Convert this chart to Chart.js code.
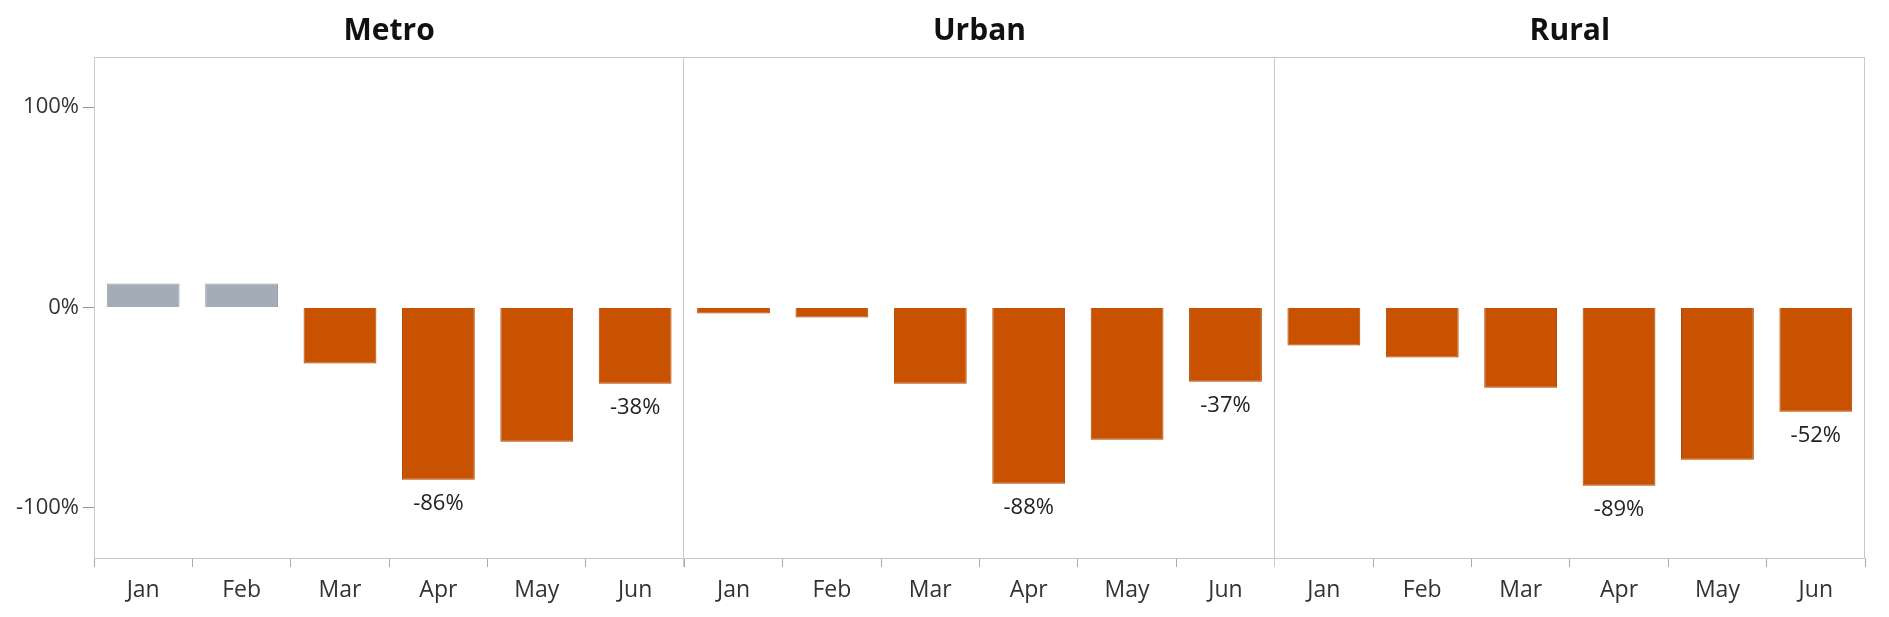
<!DOCTYPE html>
<html>
<head>
<meta charset="utf-8">
<script src="https://cdn.jsdelivr.net/npm/chart.js@4/dist/chart.umd.min.js"></script>
<style>
  html, body { margin: 0; padding: 0; background: #fff; }
  #wrap { width: 1889px; height: 617px; }
</style>
</head>
<body>
<div id="wrap"><canvas id="myChart" width="1889" height="617"></canvas></div>
<script>
const months = ['Jan', 'Feb', 'Mar', 'Apr', 'May', 'Jun']
const regions = ['Metro', 'Urban', 'Rural']
const metro = [12, 12, -28, -86, -67, -38]
const urban = [-3, -5, -38, -88, -66, -37]
const rural = [-19, -25, -40, -89, -76, -52]
const yTicks = [-100, 0, 100]

const values = [...metro, ...urban, ...rural]
const labels = regions.flatMap(() => months)

// label the lowest month and the last month of each panel
const labelled = []
;[metro, urban, rural].forEach((arr, p) => {
    const minIdx = arr.indexOf(Math.min(...arr))
    labelled.push(p * 6 + minIdx, p * 6 + arr.length - 1)
})

const FONT = '"Open Sans", "Segoe UI", sans-serif'
const frameColor = '#c9c9c9'

const panelDecor = {
    id: 'panelDecor',
    afterDraw(chart) {
        const { ctx, chartArea: area } = chart
        const w = area.width / regions.length
        ctx.save()
        ctx.strokeStyle = frameColor
        ctx.lineWidth = 1
        ctx.beginPath()
        ctx.moveTo(area.left, area.top + 0.5)
        ctx.lineTo(area.right, area.top + 0.5)
        for (let p = 1; p <= regions.length; p++) {
            const x = Math.round(area.left + w * p) - 0.5
            ctx.moveTo(x, area.top)
            ctx.lineTo(x, area.bottom + (p < regions.length ? 9 : 0))
        }
        ctx.stroke()

        ctx.fillStyle = '#111'
        ctx.font = 'bold 30px ' + FONT
        ctx.textAlign = 'center'
        ctx.textBaseline = 'middle'
        regions.forEach((r, p) => {
            ctx.fillText(r, area.left + w * (p + 0.5), area.top - 26)
        })

        const meta = chart.getDatasetMeta(0)
        ctx.fillStyle = '#222'
        ctx.font = '22px ' + FONT
        labelled.forEach(i => {
            const bar = meta.data[i]
            ctx.fillText(values[i] + '%', bar.x, bar.y + 24)
        })
        ctx.restore()
    }
}

const data = {
    labels: labels,
    datasets: [{
        data: values,
        backgroundColor: values.map(v => v >= 0 ? '#a4acb8' : '#c85200'),
        borderColor: values.map(v => v >= 0 ? '#98a0ac' : '#a84400'),
        borderWidth: 1,
        categoryPercentage: 1,
        barPercentage: 0.74
    }]
}

const config = {
    type: 'bar',
    data: data,
    options: {
        responsive: false,
        animation: false,
        layout: { padding: { top: 57, right: 24, left: 0, bottom: 0 } },
        plugins: {
            legend: { display: false },
            tooltip: { enabled: false }
        },
        scales: {
            x: {
                afterFit: (scale) => { scale.height = 59 },
                border: { color: frameColor },
                grid: { drawOnChartArea: false, tickLength: 9, tickColor: '#aaa' },
                ticks: {
                    autoSkip: false,
                    maxRotation: 0,
                    padding: 10,
                    color: '#333',
                    font: { family: FONT, size: 23 }
                }
            },
            y: {
                min: -125,
                max: 125,
                afterFit: (scale) => { scale.width = 94 },
                afterBuildTicks: (scale) => { scale.ticks = yTicks.map(v => ({ value: v })) },
                border: { color: frameColor },
                grid: { drawOnChartArea: false, tickLength: 11, tickColor: '#999' },
                ticks: {
                    padding: 4,
                    color: '#333',
                    font: { family: FONT, size: 22 },
                    callback: (v) => v + '%'
                }
            }
        }
    },
    plugins: [panelDecor]
}

const myChart = new Chart(document.getElementById('myChart'), config)
</script>
</body>
</html>
